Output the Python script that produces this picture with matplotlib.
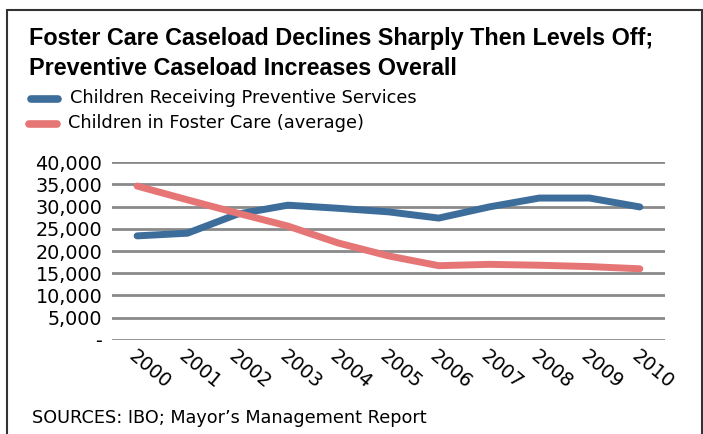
import matplotlib
matplotlib.use("Agg")
import matplotlib.pyplot as plt
from matplotlib.patches import Rectangle
from matplotlib.lines import Line2D

years = ["2000", "2001", "2002", "2003", "2004", "2005", "2006", "2007", "2008", "2009", "2010"]
preventive = [23400, 24000, 28300, 30300, 29600, 28800, 27400, 29900, 31900, 31900, 29900]
foster = [34600, 31500, 28500, 25600, 21800, 18900, 16700, 17000, 16800, 16500, 16000]
yticks = [0, 5000, 10000, 15000, 20000, 25000, 30000, 35000, 40000]
ylabels = ["-", "5,000", "10,000", "15,000", "20,000", "25,000", "30,000", "35,000", "40,000"]

blue = "#3d6d9a"
red = "#e67676"
grid = "#8a8a8a"

fig = plt.figure(figsize=(7.03, 4.34), dpi=100)
ax = fig.add_axes([0.1593, 0.2166, 0.7866, 0.4101])

x = list(range(len(years)))
for v in yticks:
    ax.axhline(v, color=grid, lw=2, zorder=1)
ax.plot(x, preventive, color=blue, lw=5, solid_capstyle="round", zorder=3)
ax.plot(x, foster, color=red, lw=5, solid_capstyle="round", zorder=3)

ax.set_xlim(-0.5, len(years) - 0.5)
ax.set_ylim(0, 40000)
ax.set_yticks(yticks)
ax.set_yticklabels(ylabels, fontsize=13.8, family="DejaVu Sans")
ax.set_xticks(x)
ax.set_xticklabels(years, fontsize=13.8, family="DejaVu Sans", rotation=-40,
                   ha="left", va="top", rotation_mode="anchor")
ax.tick_params(length=0)
ax.tick_params(axis="y", pad=7)
ax.tick_params(axis="x", pad=5)
for s in ax.spines.values():
    s.set_visible(False)

# titulo e legenda
fig.text(0.041, 0.896, "Foster Care Caseload Declines Sharply Then Levels Off;",
         fontsize=16.8, fontweight="bold", family="Liberation Sans", va="baseline")
fig.text(0.041, 0.827, "Preventive Caseload Increases Overall",
         fontsize=16.8, fontweight="bold", family="Liberation Sans", va="baseline")
fig.add_artist(Line2D([0.044, 0.083], [0.772, 0.772], color=blue, lw=5.5, solid_capstyle="round"))
fig.add_artist(Line2D([0.041, 0.081], [0.714, 0.714], color=red, lw=5.5, solid_capstyle="round"))
fig.text(0.0996, 0.763, "Children Receiving Preventive Services", fontsize=12.8,
         family="DejaVu Sans", va="baseline")
fig.text(0.0967, 0.705, "Children in Foster Care (average)", fontsize=12.8,
         family="DejaVu Sans", va="baseline")
fig.text(0.0455, 0.025, "SOURCES: IBO; Mayor\u2019s Management Report", fontsize=12.7,
         family="DejaVu Sans", va="baseline")

fig.add_artist(Rectangle((0.01, -0.05), 0.988, 1.027, transform=fig.transFigure,
                         fill=False, edgecolor="#333333", lw=1.5))

fig.savefig("out.png", dpi=100)
